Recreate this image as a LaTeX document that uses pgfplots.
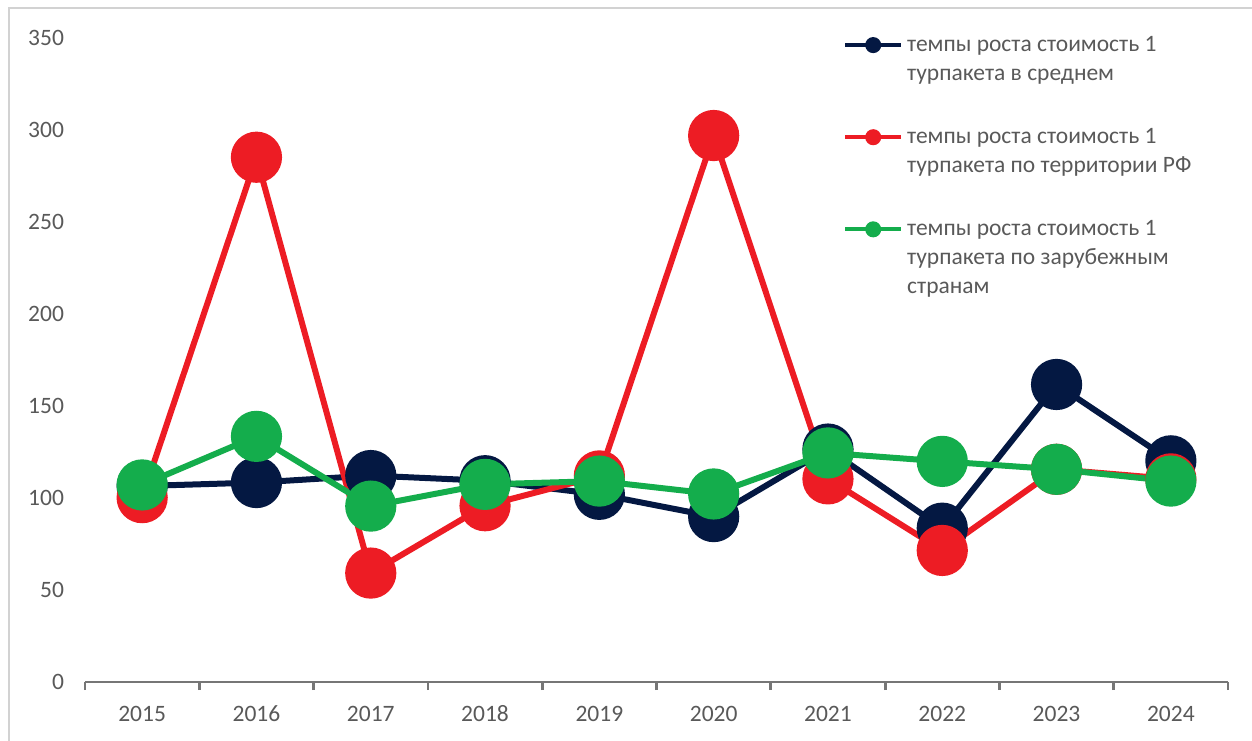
\documentclass[border=0pt]{standalone}
\usepackage{pgfplots}
\pgfplotsset{compat=1.18}
\usepackage{fontspec}
\setmainfont{Carlito}

\definecolor{navyc}{RGB}{4,24,66}
\definecolor{redc}{RGB}{237,28,36}
\definecolor{greenc}{RGB}{20,173,76}
\definecolor{txt}{RGB}{89,89,89}
\definecolor{axc}{RGB}{118,118,118}
\definecolor{framec}{RGB}{210,210,210}

\newcommand{\chartfont}{\fontsize{11.75pt}{14.5pt}\selectfont}
% multi-line legend text whose baseline is the first line
\newcommand{\lines}[1]{\vtop{\chartfont\baselineskip=14.5pt #1}}

\begin{document}
\begin{tikzpicture}
  % canvas and outer frame
  \useasboundingbox (-42.5pt,-29pt) rectangle (583.5pt,341pt);
  \begin{scope}
    \clip (-42.5pt,-29pt) rectangle (583.5pt,341pt);
    \draw[framec, line width=0.8pt] (-38pt,-60pt) rectangle (600pt,337pt);
  \end{scope}
  \begin{axis}[
      at={(0pt,0pt)}, anchor=south west,
      scale only axis,
      width=571.5pt, height=322pt,
      xmin=-0.5, xmax=9.5,
      ymin=0, ymax=350,
      axis x line*=bottom,
      axis y line*=left,
      y axis line style={draw=none},
      x axis line style={axc, line width=1.4pt},
      xtick={0,...,9},
      xticklabels={2015,2016,2017,2018,2019,2020,2021,2022,2023,2024},
      minor xtick={-0.5,0.5,...,9.5},
      major tick length=0pt,
      minor tick length=4pt,
      tick align=outside,
      minor tick style={axc, line width=1.4pt},
      ytick={0,50,...,350},
      /pgf/number format/assume math mode=true,
      tick label style={font=\chartfont, text=txt},
      yticklabel style={xshift=-7pt},
      xticklabel style={anchor=base, yshift=-19.5pt},
      clip=false,
      legend style={at={(0.663,1.01)}, anchor=north west, draw=none, fill=none,
        font=\chartfont, text=txt, inner sep=0pt,
        cells={anchor=base west},
        row sep=33pt,
        /tikz/every even column/.append style={column sep=1pt}},
      legend image code/.code={
        \draw[#1, line width=2pt, mark size=3pt, mark repeat=2, mark phase=2]
          plot coordinates {(0pt,3pt) (14pt,3pt) (28pt,3pt)};},
      every axis plot/.append style={line width=3pt, mark=*, mark size=11.3pt},
    ]
    \addplot[navyc, mark options={draw=navyc, fill=navyc}] coordinates {
      (0,106.5) (1,108.4) (2,112.2) (3,109.4) (4,102.0)
      (5,89.9) (6,126.6) (7,83.6) (8,161.7) (9,120.2)};
    \addlegendentry{\lines{\hbox{темпы роста стоимость 1}\hbox{турпакета в среднем}}}
    \addplot[redc, mark options={draw=redc, fill=redc}] coordinates {
      (0,100.2) (1,285.2) (2,59.2) (3,95.8) (4,112.0)
      (5,297.0) (6,110.4) (7,71.5) (8,115.6) (9,110.4)};
    \addlegendentry{\lines{\hbox{темпы роста стоимость 1}\hbox{турпакета по территории РФ}}}
    \addplot[greenc, mark options={draw=greenc, fill=greenc}] coordinates {
      (0,107.1) (1,133.5) (2,95.6) (3,107.4) (4,109.2)
      (5,102.2) (6,124.5) (7,119.9) (8,115.6) (9,109.2)};
    \addlegendentry{\lines{\hbox{темпы роста стоимость 1}\hbox{турпакета по зарубежным}\hbox{странам}}}
  \end{axis}
\end{tikzpicture}
\end{document}
